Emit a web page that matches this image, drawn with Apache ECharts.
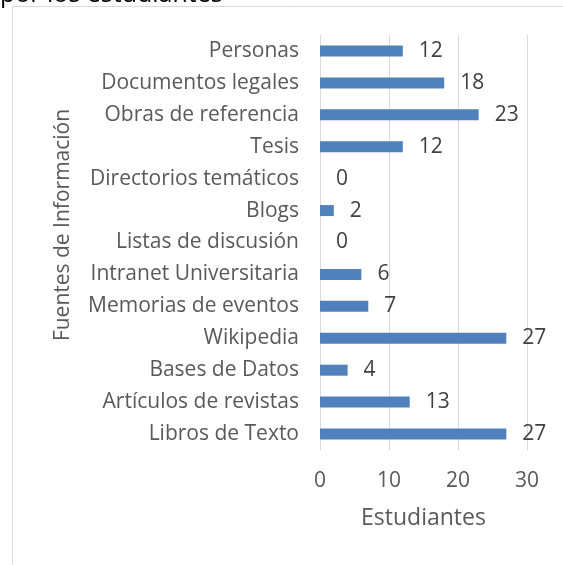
<!DOCTYPE html>
<html>
<head>
<meta charset="utf-8">
<script src="https://cdn.jsdelivr.net/npm/echarts@6/dist/echarts.min.js"></script>
<style>
  html, body { margin: 0; padding: 0; background: #fff; }
  #chart { width: 563px; height: 565px; }
</style>
</head>
<body>
<div id="chart"></div>
<script>
// categories listed from bottom to top, as the category axis draws them
var categories = [
    'Libros de Texto', 'Artículos de revistas', 'Bases de Datos', 'Wikipedia',
    'Memorias de eventos', 'Intranet Universitaria', 'Listas de discusión', 'Blogs',
    'Directorios temáticos', 'Tesis', 'Obras de referencia', 'Documentos legales', 'Personas'
];
var estudiantes = [27, 13, 4, 27, 7, 6, 0, 2, 0, 12, 23, 18, 12];
var xTicks = [0, 10, 20, 30];

var font = 'Open Sans';
var grey = '#595959';

var myChart = echarts.init(document.getElementById('chart'));

var option = {
    animation: false,
    textStyle: { fontFamily: font },
    graphic: [
        {
            type: 'rect',
            shape: { x: 12.5, y: 6.5, width: 600, height: 600 },
            style: { fill: 'none', stroke: '#d9d9d9', lineWidth: 1 }
        },
        {
            type: 'text',
            left: 0,
            top: -18,
            style: { text: 'por los estudiantes', font: '25px ' + font, fill: '#000' }
        },
        {
            type: 'text',
            x: 63,
            y: 225,
            rotation: Math.PI / 2,
            style: {
                text: 'Fuentes de Información',
                font: '21px ' + font,
                fill: grey,
                align: 'center',
                verticalAlign: 'middle'
            }
        }
    ],
    grid: { left: 320, right: 36, top: 35, bottom: 115 },
    xAxis: {
        type: 'value',
        min: xTicks[0],
        max: xTicks[xTicks.length - 1],
        interval: 10,
        name: 'Estudiantes',
        nameLocation: 'middle',
        nameGap: 57,
        nameTextStyle: { fontSize: 23, color: grey, fontFamily: font },
        axisLine: { show: false },
        axisTick: { show: false },
        axisLabel: { fontSize: 21, color: grey, margin: 21, fontFamily: font },
        splitLine: { lineStyle: { color: '#d9d9d9', width: 1 } }
    },
    yAxis: {
        type: 'category',
        data: categories,
        axisLine: { show: false },
        axisTick: { show: false },
        axisLabel: { fontSize: 21, color: grey, margin: 21, fontFamily: font }
    },
    series: [
        {
            name: 'Estudiantes',
            type: 'bar',
            data: estudiantes,
            barWidth: 11,
            itemStyle: { color: '#4f81bd' },
            label: {
                show: true,
                position: 'right',
                distance: 16,
                fontSize: 21,
                color: '#404040',
                fontFamily: font
            }
        }
    ]
};

myChart.setOption(option);
</script>
</body>
</html>
